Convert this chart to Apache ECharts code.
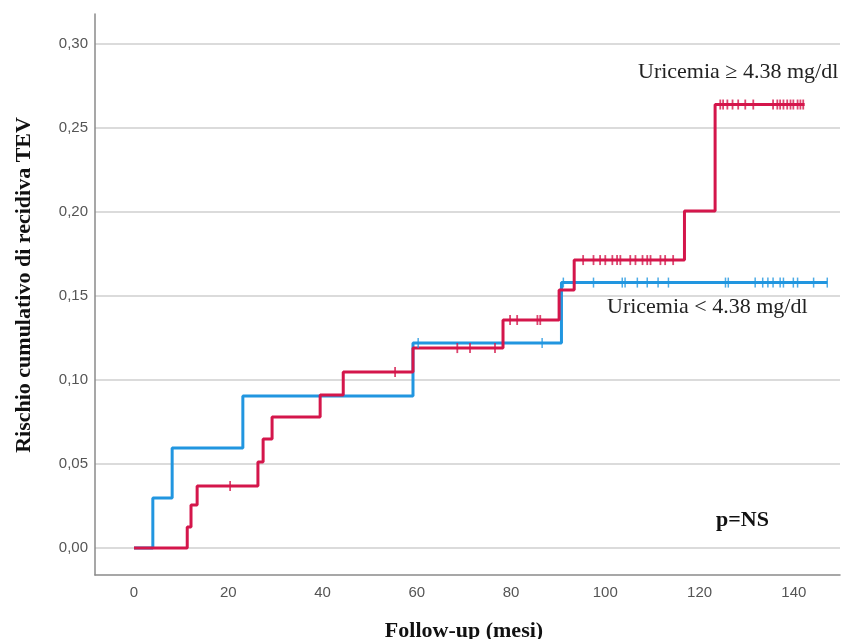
<!DOCTYPE html>
<html>
<head>
<meta charset="utf-8">
<script src="https://cdn.jsdelivr.net/npm/echarts@6/dist/echarts.min.js"></script>
<style>html,body{margin:0;padding:0;background:#fff}#c{width:843px;height:639px}</style>
</head>
<body>
<div id="c"></div>
<script>
// Step curves: [month, cumulative risk after event]
const lowGroupSteps = [[0,0],[4.0,0.0298],[8.1,0.0595],[23.1,0.0905],[59.2,0.122],[90.7,0.158],[147.1,0.158]];
const highGroupSteps = [[0,0],[11.3,0.0125],[12.1,0.0256],[13.4,0.0369],[26.3,0.0512],[27.4,0.0649],[29.3,0.078],[39.5,0.091],[44.4,0.1048],[59.2,0.119],[78.3,0.1357],[90.2,0.1536],[93.4,0.1714],[116.8,0.2006],[123.3,0.264],[142.3,0.264]];
// Censored observations
const lowGroupCensored = [[60.3,0.122],[86.6,0.122],[91.1,0.158],[97.5,0.158],[103.6,0.158],[104.2,0.158],[106.8,0.158],[108.9,0.158],[111.2,0.158],[113.4,0.158],[125.5,0.158],[126.1,0.158],[131.8,0.158],[133.4,0.158],[134.5,0.158],[135.6,0.158],[137.1,0.158],[137.8,0.158],[139.9,0.158],[140.8,0.158],[144.2,0.158],[147.1,0.158]];
const highGroupCensored = [[20.4,0.0369],[55.4,0.1048],[68.6,0.119],[71.3,0.119],[76.6,0.119],[79.8,0.1357],[81.3,0.1357],[85.6,0.1357],[86.2,0.1357],[95.3,0.1714],[97.5,0.1714],[98.9,0.1714],[100,0.1714],[101.5,0.1714],[102.5,0.1714],[103.2,0.1714],[105.3,0.1714],[106.4,0.1714],[107.9,0.1714],[108.9,0.1714],[109.6,0.1714],[111.7,0.1714],[112.7,0.1714],[114.4,0.1714],[124.4,0.264],[125,0.264],[125.9,0.264],[127,0.264],[128.2,0.264],[129.7,0.264],[131.4,0.264],[135.6,0.264],[136.5,0.264],[137.1,0.264],[137.8,0.264],[138.6,0.264],[139.3,0.264],[139.9,0.264],[140.8,0.264],[141.4,0.264],[142,0.264]];
const xTicks = [0,20,40,60,80,100,120,140];
const yTicks = [0,0.05,0.10,0.15,0.20,0.25,0.30];

const BLUE = '#2196e0', RED = '#d4164b';
const chart = echarts.init(document.getElementById('c'));
chart.setOption({
  animation: false,
  grid: {left: 95, right: 3, top: 14, bottom: 64},
  xAxis: {
    type: 'value', min: -8.27, max: 149.8,
    axisLine: {show: true, onZero: false, lineStyle: {color: '#8a8a8a', width: 1.5}},
    axisTick: {show: false, customValues: xTicks},
    axisLabel: {customValues: xTicks, color: '#555', fontFamily: 'Liberation Sans', fontSize: 15, margin: 10},
    splitLine: {show: false}
  },
  yAxis: {
    type: 'value', min: -0.0161, max: 0.3179,
    axisLine: {show: true, onZero: false, lineStyle: {color: '#8a8a8a', width: 1.5}},
    axisTick: {show: false, customValues: yTicks},
    axisLabel: {customValues: yTicks, color: '#555', fontFamily: 'Liberation Sans', fontSize: 15, margin: 7,
      formatter: v => v.toFixed(2).replace('.', ',')},
    splitLine: {show: true, lineStyle: {color: '#cfcfcf', width: 1.5}}
  },
  series: [
    {type: 'line', data: lowGroupSteps, step: 'end', symbol: 'none', lineStyle: {color: BLUE, width: 3}, z: 2},
    {type: 'line', data: highGroupSteps, step: 'end', symbol: 'none', lineStyle: {color: RED, width: 3}, z: 3},
    {type: 'scatter', data: lowGroupCensored, symbol: 'rect', symbolSize: [1.5, 10], itemStyle: {color: BLUE}, z: 4},
    {type: 'scatter', data: highGroupCensored, symbol: 'rect', symbolSize: [1.8, 10], itemStyle: {color: RED}, z: 5}
  ],
  graphic: [
    {type: 'text', left: 638, top: 61, style: {text: 'Uricemia \u2265 4.38 mg/dl', font: '22px "Liberation Serif"', fill: '#222'}},
    {type: 'text', left: 607, top: 296, style: {text: 'Uricemia < 4.38 mg/dl', font: '22px "Liberation Serif"', fill: '#222'}},
    {type: 'text', left: 716, top: 509, style: {text: 'p=NS', font: 'bold 22px "Liberation Serif"', fill: '#111'}},
    {type: 'text', x: 464, y: 631, style: {text: 'Follow-up (mesi)', font: 'bold 22px "Liberation Serif"', fill: '#111', align: 'center', verticalAlign: 'middle'}},
    {type: 'text', x: 24, y: 285, rotation: Math.PI / 2, style: {text: 'Rischio cumulativo di recidiva TEV', font: 'bold 22px "Liberation Serif"', fill: '#111', align: 'center', verticalAlign: 'middle'}}
  ]
});
</script>
</body>
</html>
